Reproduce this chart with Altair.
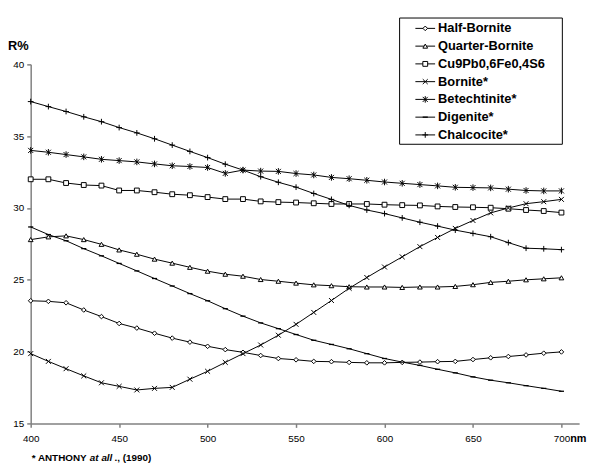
import altair as alt
import pandas as pd

wavelengths = list(range(400, 701, 10))

names = ["Half-Bornite", "Quarter-Bornite", "Cu9Pb0,6Fe0,4S6", "Bornite*",
         "Betechtinite*", "Digenite*", "Chalcocite*"]

half_bornite = [23.54, 23.5, 23.4, 22.9, 22.44, 21.96, 21.64, 21.28, 20.94, 20.66,
                20.37, 20.14, 19.95, 19.73, 19.52, 19.43, 19.32, 19.3, 19.25, 19.22,
                19.22, 19.25, 19.27, 19.3, 19.32, 19.45, 19.57, 19.66, 19.77, 19.89, 19.98]
quarter_bornite = [27.8, 27.99, 28.06, 27.8, 27.47, 27.08, 26.78, 26.44, 26.16, 25.87,
                   25.6, 25.39, 25.25, 25.02, 24.9, 24.77, 24.65, 24.59, 24.52, 24.5,
                   24.5, 24.47, 24.5, 24.5, 24.54, 24.66, 24.82, 24.9, 25.0, 25.07, 25.14]
cu9pb = [32.0, 32.0, 31.74, 31.6, 31.56, 31.22, 31.22, 31.1, 30.96, 30.89,
         30.76, 30.62, 30.62, 30.46, 30.41, 30.38, 30.33, 30.28, 30.28, 30.28,
         30.23, 30.2, 30.18, 30.11, 30.07, 30.05, 30.02, 29.95, 29.86, 29.79, 29.68]
bornite = [19.86, 19.32, 18.81, 18.31, 17.83, 17.58, 17.33, 17.44, 17.51, 18.08,
           18.63, 19.25, 19.86, 20.46, 21.14, 21.9, 22.73, 23.56, 24.41, 25.16,
           25.89, 26.6, 27.31, 27.95, 28.58, 29.13, 29.66, 30.0, 30.3, 30.44, 30.6]
betechtinite = [34.01, 33.88, 33.72, 33.56, 33.39, 33.3, 33.21, 33.07, 32.94, 32.89,
                32.82, 32.41, 32.64, 32.57, 32.55, 32.4, 32.3, 32.13, 32.04, 31.93,
                31.81, 31.72, 31.63, 31.54, 31.44, 31.42, 31.4, 31.31, 31.22, 31.19, 31.19]
digenite = [28.68, 28.15, 27.72, 27.17, 26.67, 26.14, 25.62, 25.09, 24.57, 24.04,
            23.54, 22.99, 22.47, 22.0, 21.6, 21.19, 20.79, 20.5, 20.2, 19.86,
            19.52, 19.27, 19.04, 18.77, 18.52, 18.24, 18.01, 17.83, 17.63, 17.44, 17.24]
chalcocite = [37.41, 37.06, 36.72, 36.35, 36.01, 35.6, 35.23, 34.82, 34.38, 33.94,
              33.51, 33.05, 32.64, 32.18, 31.79, 31.45, 31.01, 30.6, 30.18, 29.86,
              29.61, 29.31, 29.01, 28.74, 28.46, 28.23, 28.0, 27.59, 27.2, 27.16, 27.1]

x_ticks = [400, 450, 500, 550, 600, 650, 700]
y_ticks = [15, 20, 25, 30, 35, 40]

series_values = [half_bornite, quarter_bornite, cu9pb, bornite, betechtinite, digenite, chalcocite]
rows = []
for name, vals in zip(names, series_values):
    for w, v in zip(wavelengths, vals):
        rows.append({"series": name, "wl": w, "R": v})
df = pd.DataFrame(rows)

FONT = "Liberation Sans"

shapes = ["diamond", "triangle-up", "square",
          "M-1,-1L1,1M-1,1L1,-1",
          "M-1,-1L1,1M-1,1L1,-1M0,-1.3L0,1.3",
          "M-1,-0.25L1,-0.25L1,0.25L-1,0.25Z",
          "M-1.1,0L1.1,0M0,-1.1L0,1.1"]
fills = ["white", "white", "white", "transparent", "transparent", "black", "transparent"]
strokes = ["black", "black", "black", "black", "black", "transparent", "black"]
sizes = [22, 28, 26, 26, 30, 12, 30]

shape_enc = alt.Shape("series:N", scale=alt.Scale(domain=names, range=shapes), legend=None)
fill_enc = alt.Fill("series:N", scale=alt.Scale(domain=names, range=fills), legend=None)
stroke_enc = alt.Stroke("series:N", scale=alt.Scale(domain=names, range=strokes), legend=None)
size_enc = alt.Size("series:N", scale=alt.Scale(domain=names, range=sizes), legend=None)

x_enc = alt.X("wl:Q", scale=alt.Scale(domain=[400, 710], nice=False, zero=False),
              axis=alt.Axis(values=x_ticks, title=None, labelFlush=False, grid=False))
y_enc = alt.Y("R:Q", scale=alt.Scale(domain=[15, 40], nice=False, zero=False),
              axis=alt.Axis(values=y_ticks, title=None, labelFlush=False, grid=False))

lines = alt.Chart(df).mark_line(color="black", strokeWidth=1).encode(
    x=x_enc, y=y_enc, detail="series:N")
points = alt.Chart(df).mark_point(strokeWidth=1, opacity=1, fillOpacity=1).encode(
    x=x_enc, y=y_enc, shape=shape_enc, fill=fill_enc, stroke=stroke_enc, size=size_enc)
main = alt.layer(lines, points)

# legend
leg_df = pd.DataFrame({"series": names})
leg_y = alt.Y("series:N", scale=alt.Scale(type="point", domain=names, range=[-36.5, 71.5], padding=0),
              axis=None)
box = alt.Chart(pd.DataFrame({"a": [0]})).mark_rect(fill="white", stroke="black", strokeWidth=1).encode(
    x=alt.value(374), x2=alt.value(539), y=alt.value(-47), y2=alt.value(81))
leg_rule = alt.Chart(leg_df).mark_rule(color="black", strokeWidth=1).encode(
    x=alt.value(390), x2=alt.value(410), y=leg_y)
leg_sym = alt.Chart(leg_df).mark_point(strokeWidth=1, opacity=1, fillOpacity=1).encode(
    x=alt.value(400), y=leg_y, shape=shape_enc, fill=fill_enc, stroke=stroke_enc, size=size_enc)
leg_text = alt.Chart(leg_df).mark_text(align="left", baseline="middle", font=FONT, fontSize=13,
                                       fontWeight="bold", color="black").encode(
    x=alt.value(413), y=leg_y, text="series:N")
legend = alt.layer(box, leg_rule, leg_sym, leg_text)

one = pd.DataFrame({"a": [0]})
r_title = alt.Chart(one).mark_text(text="R%", align="left", baseline="middle", font=FONT,
                                   fontSize=13, fontWeight="bold", color="black").encode(
    x=alt.value(-23), y=alt.value(-19))
nm_title = alt.Chart(one).mark_text(text="nm", align="left", baseline="middle", font=FONT,
                                    fontSize=11, fontWeight="bold", color="black").encode(
    x=alt.value(547), y=alt.value(380))
foot1 = alt.Chart(one).mark_text(text="* ANTHONY ", align="left", baseline="middle", font=FONT,
                                 fontSize=10, fontWeight="bold", color="black").encode(
    x=alt.value(1), y=alt.value(399))
foot2 = alt.Chart(one).mark_text(text="at all", align="left", baseline="middle", font=FONT,
                                 fontSize=10, fontWeight="bold", fontStyle="italic", color="black").encode(
    x=alt.value(60), y=alt.value(399))
foot3 = alt.Chart(one).mark_text(text="., (1990)", align="left", baseline="middle", font=FONT,
                                 fontSize=10, fontWeight="bold", color="black").encode(
    x=alt.value(85), y=alt.value(399))

chart = alt.layer(main, legend, r_title, nm_title, foot1, foot2, foot3).resolve_scale(
    y="independent"
).properties(
    width=556, height=364,
    autosize=alt.AutoSizeParams(type="none"),
    padding={"left": 23, "top": 54, "right": 9, "bottom": 40},
).configure_view(stroke=None).configure_axis(
    domainColor="#808080", domainWidth=1.5, tickColor="#808080", tickWidth=1.5, tickSize=4,
    labelFont=FONT, labelFontSize=10, labelColor="black", labelPadding=3,
).configure_axisX(labelPadding=6)

chart.save("out.html", embed_options={"renderer": "svg", "actions": False})
